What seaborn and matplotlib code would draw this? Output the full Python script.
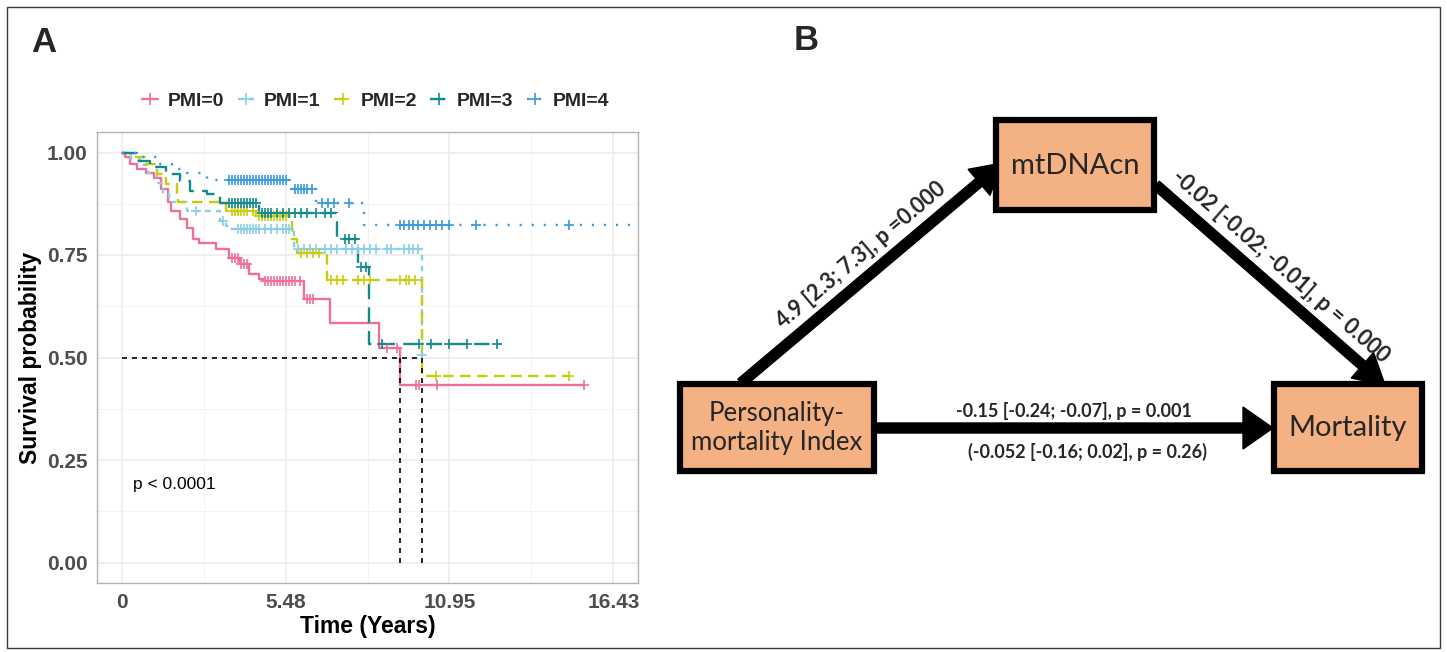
import numpy as np
import matplotlib
matplotlib.use("Agg")
import matplotlib.pyplot as plt
from matplotlib.lines import Line2D
from matplotlib.patches import Rectangle, FancyArrow
import seaborn as sns

# ---------------- data ----------------
groups = ["PMI=0", "PMI=1", "PMI=2", "PMI=3", "PMI=4"]

pmi0_times = [0, 0.1, 0.27, 0.5, 0.83, 1.1, 1.33, 1.55, 1.66, 1.94, 2.17, 2.37, 2.6,
              3.17, 3.6, 3.94, 4.27, 4.6, 4.75, 6.1, 6.95, 8.61, 9.31]
pmi0_surv = [1.0, 0.99, 0.973, 0.96, 0.95, 0.937, 0.91, 0.88, 0.857, 0.837, 0.816, 0.79, 0.78,
             0.765, 0.743, 0.728, 0.703, 0.692, 0.687, 0.643, 0.583, 0.522, 0.434]
pmi0_end = 15.46
pmi0_censor = [3.7, 3.8, 3.9, 4.0, 4.1, 4.2, 4.8, 4.9, 5.0, 5.1, 5.2, 5.3, 5.4, 5.5, 5.6,
               5.7, 5.8, 5.95, 6.2, 6.3, 6.4, 8.85, 9.2, 9.85, 9.95, 10.55, 15.46]

pmi1_times = [0, 0.3, 0.6, 0.9, 1.2, 1.4, 1.6, 2.2, 3.3, 3.5, 3.6, 5.75, 10.02]
pmi1_surv = [1.0, 0.985, 0.97, 0.95, 0.925, 0.9, 0.88, 0.857, 0.833, 0.82, 0.813, 0.765, 0.505]
pmi1_end = 10.02
pmi1_censor = [2.5, 3.4, 3.9, 4.0, 4.1, 4.2, 4.3, 4.4, 4.5, 4.6, 4.8, 5.0, 5.2, 5.4, 5.5,
               5.6, 5.9, 6.1, 6.3, 6.5, 6.8, 7.0, 7.2, 7.5, 7.7, 7.9, 8.1, 8.3, 8.5, 8.85,
               9.0, 9.45, 9.6, 9.75, 9.9, 10.02]

pmi2_times = [0, 0.3, 0.8, 1.2, 1.5, 1.84, 1.9, 3.5, 4.5, 5.7, 5.85, 6.85, 10.02]
pmi2_surv = [1.0, 0.99, 0.973, 0.947, 0.922, 0.9, 0.879, 0.857, 0.845, 0.79, 0.755, 0.69, 0.456]
pmi2_end = 14.96
pmi2_censor = [3.7, 3.8, 3.9, 4.0, 4.1, 4.2, 4.4, 4.6, 4.7, 4.8, 4.9, 5.0, 5.1, 5.2, 5.3,
               5.4, 5.5, 6.0, 6.2, 6.4, 6.6, 7.0, 7.2, 7.4, 7.9, 8.1, 8.3, 9.3, 9.5, 9.6,
               9.8, 10.5, 14.96]

pmi3_times = [0, 0.5, 0.95, 1.47, 1.94, 2.27, 2.84, 3.3, 4.6, 7.18, 7.9, 8.25]
pmi3_surv = [1.0, 0.98, 0.965, 0.947, 0.93, 0.907, 0.898, 0.877, 0.852, 0.79, 0.72, 0.534]
pmi3_end = 12.55
pmi3_censor = [3.6, 3.7, 3.8, 3.9, 4.0, 4.1, 4.2, 4.3, 4.4, 4.5, 4.7, 4.8, 4.9, 5.0, 5.2,
               5.4, 5.6, 5.8, 6.0, 6.2, 6.5, 6.8, 7.0, 7.45, 7.6, 7.8, 8.0, 8.15, 8.7,
               9.95, 10.35, 10.95, 11.55, 12.55]

pmi4_times = [0, 0.5, 1.2, 1.7, 2.2, 2.85, 5.65, 6.5, 8.11]
pmi4_surv = [1.0, 0.99, 0.973, 0.96, 0.95, 0.934, 0.912, 0.876, 0.823]
pmi4_end = 17.6
pmi4_censor = [3.6, 3.7, 3.8, 3.9, 4.0, 4.1, 4.2, 4.3, 4.4, 4.5, 4.6, 4.7, 4.8, 4.9, 5.0,
               5.1, 5.2, 5.3, 5.4, 5.5, 5.8, 5.9, 6.0, 6.1, 6.2, 6.35, 6.7, 6.9, 7.1, 7.6,
               9.3, 9.45, 9.6, 9.75, 9.9, 10.1, 10.3, 10.5, 10.7, 10.95, 11.85, 14.95]

median_times = [9.31, 10.02]
x_ticks = [0, 5.48, 10.95, 16.43]
x_ticklabels = ["0", "5.48", "10.95", "16.43"]
y_ticks = [0.0, 0.25, 0.5, 0.75, 1.0]
y_ticklabels = ["0.00", "0.25", "0.50", "0.75", "1.00"]
p_label = "p < 0.0001"

# mediation diagram texts
node_labels = ["Personality-\nmortality Index", "mtDNAcn", "Mortality"]
path_a = "4.9 [2.3; 7.3], p =0.000"
path_b = "-0.02 [-0.02; -0.01], p = 0.000"
path_c = "-0.15 [-0.24; -0.07], p = 0.001"
path_c2 = "(-0.052 [-0.16; 0.02], p = 0.26)"

# ---------------- styling ----------------
colors = ["#EF6F96", "#8ACEEA", "#CBCB0E", "#14898C", "#3A9ADB"]
styles = ["-", (0, (2.3, 2.3)), (0, (4.5, 2.7)), (0, (6.5, 3.5)), (0, (0.9, 4.2))]

sns.set_style("white")
plt.rcParams["font.family"] = ["Liberation Sans", "DejaVu Sans"]

W, H = 1447, 652
fig = plt.figure(figsize=(W / 100, H / 100), dpi=100)

# background axis in pixel coordinates (frame + panel B)
axB = fig.add_axes([0, 0, 1, 1], zorder=0)
axB.set_xlim(0, W)
axB.set_ylim(H, 0)
axB.axis("off")
axB.add_patch(Rectangle((7, 7), 1433, 641, fill=False, ec="#3a3a3a", lw=1.0))

# ---------------- panel A ----------------
ax = fig.add_axes([97 / W, 1 - 583 / H, (638 - 97) / W, (583 - 132) / H], zorder=2)
ax.set_facecolor("white")

all_times = [pmi0_times, pmi1_times, pmi2_times, pmi3_times, pmi4_times]
all_surv = [pmi0_surv, pmi1_surv, pmi2_surv, pmi3_surv, pmi4_surv]
all_end = [pmi0_end, pmi1_end, pmi2_end, pmi3_end, pmi4_end]
all_cens = [pmi0_censor, pmi1_censor, pmi2_censor, pmi3_censor, pmi4_censor]

for g, t, s, e, cen, c, ls in zip(groups, all_times, all_surv, all_end, all_cens, colors, styles):
    xs = np.array(list(t) + [e])
    ys = np.array(list(s) + [s[-1]])
    sns.lineplot(x=xs, y=ys, ax=ax, color=c, linestyle=ls, lw=1.7,
                 drawstyle="steps-post", estimator=None, sort=False, zorder=3)
    ct = np.array(cen)
    idx = np.searchsorted(np.array(t), ct, side="right") - 1
    cs = np.array(s)[idx]
    sns.scatterplot(x=ct, y=cs, ax=ax, color=c, marker="+", s=60, linewidth=1.2, zorder=4)

# median lines
ax.plot([0, max(median_times)], [0.5, 0.5], color="black", lw=1.2, ls=(0, (3, 3)), zorder=5)
for m in median_times:
    ax.plot([m, m], [0, 0.5], color="black", lw=1.2, ls=(0, (3, 3)), zorder=5)

ax.text(0.37, 0.19, p_label, fontsize=12.5, ha="left", va="center", color="black")

ax.set_xlim(-0.82, 17.25)
ax.set_ylim(-0.05, 1.05)
ax.set_xticks(x_ticks)
ax.set_xticklabels(x_ticklabels)
ax.set_yticks(y_ticks)
ax.set_yticklabels(y_ticklabels)
ax.set_xticks([(a + b) / 2 for a, b in zip(x_ticks[:-1], x_ticks[1:])], minor=True)
ax.set_yticks([(a + b) / 2 for a, b in zip(y_ticks[:-1], y_ticks[1:])], minor=True)
ax.grid(which="major", color="#EBEBEB", lw=1.1, zorder=0)
ax.grid(which="minor", color="#F3F3F3", lw=0.7, zorder=0)
ax.set_axisbelow(True)
for sp in ax.spines.values():
    sp.set_color("#B3B3B3")
    sp.set_linewidth(1.0)
ax.tick_params(which="major", length=4, width=1, color="#333333", direction="out",
               labelsize=15, labelcolor="#4D4D4D", pad=3)
ax.tick_params(which="minor", length=0)
for lab in ax.get_xticklabels() + ax.get_yticklabels():
    lab.set_fontweight("bold")
ax.set_xlabel("Time (Years)", fontsize=16.5, fontweight="bold", color="black", labelpad=2)
ax.set_ylabel("Survival probability", fontsize=16.5, fontweight="bold", color="black", labelpad=3)

handles = [Line2D([0], [0], color=c, ls=ls, lw=1.7, marker="+", markersize=9, mew=1.2)
           for c, ls in zip(colors, styles)]
ax.legend(handles, groups, loc="center", bbox_to_anchor=(0.515, 1.069), ncol=5,
          frameon=False, handlelength=0.85, handletextpad=0.5, columnspacing=0.7,
          prop={"weight": "bold", "size": 14})

fig.text(44 / W, 1 - 43 / H, "A", fontsize=25, fontweight="bold", ha="center", va="center")
fig.text(806 / W, 1 - 40 / H, "B", fontsize=25, fontweight="bold", ha="center", va="center")

# ---------------- panel B: mediation diagram ----------------
box_fc = "#F4B183"
bfont = ["Lato", "DejaVu Sans"]
boxes = [(680, 384, 194, 87), (996, 120, 158, 90), (1274, 384, 148, 87)]
for (bx, by, bw, bh) in boxes:
    axB.add_patch(Rectangle((bx, by), bw, bh, fc=box_fc, ec="black", lw=4.5, zorder=3))

axB.text(777, 428, node_labels[0], fontsize=18.5, ha="center", va="center",
         family=bfont, linespacing=1.2, zorder=4)
axB.text(1075, 166, node_labels[1], fontsize=21, ha="center", va="center", family=bfont, zorder=4)
axB.text(1348, 428, node_labels[2], fontsize=21, ha="center", va="center", family=bfont, zorder=4)

arrow_kw = dict(width=10, head_width=34, head_length=30, length_includes_head=True,
                fc="black", ec="black", zorder=2)
axB.add_patch(FancyArrow(741, 383, 1002 - 741, 163 - 383, **arrow_kw))
axB.add_patch(FancyArrow(1156, 185, 1385 - 1156, 385 - 185, **arrow_kw))
axB.add_patch(FancyArrow(876, 428, 1273 - 876, 0, width=10, head_width=42, head_length=30,
                         length_includes_head=True, fc="black", ec="black", zorder=2))

ang_a = np.degrees(np.arctan2(383 - 163, 1002 - 741))
ang_b = -np.degrees(np.arctan2(385 - 185, 1385 - 1156))
axB.text(861, 255, path_a, fontsize=15.5, fontweight="bold", family=bfont, rotation=ang_a,
         rotation_mode="anchor", ha="center", va="center", zorder=4)
axB.text(1281, 266, path_b, fontsize=15.5, fontweight="bold", family=bfont, rotation=ang_b,
         rotation_mode="anchor", ha="center", va="center", zorder=4)
axB.text(1074, 411, path_c, fontsize=13, fontweight="bold", family=bfont,
         ha="center", va="center", zorder=4)
axB.text(1088, 452, path_c2, fontsize=13, fontweight="bold", family=bfont,
         ha="center", va="center", zorder=4)

fig.savefig("out.png", dpi=100)
